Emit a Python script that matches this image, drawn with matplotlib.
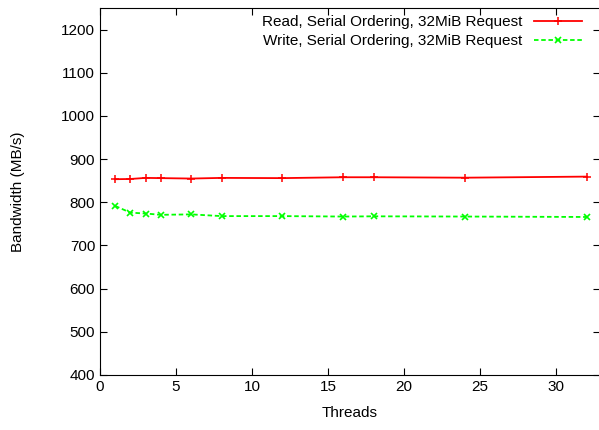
import matplotlib
matplotlib.use("Agg")
import matplotlib.pyplot as plt

threads = [1, 2, 3, 4, 6, 8, 12, 16, 18, 24, 32]
read_bw = [853.5, 854, 856.5, 856, 855, 856.5, 856, 858, 858, 857, 859.5]
write_bw = [791.5, 776, 774, 771, 772, 768, 768, 767, 767.5, 767, 766]

plt.rcParams['font.family'] = ['Liberation Sans', 'DejaVu Sans']
plt.rcParams['font.size'] = 11

fig = plt.figure(figsize=(5.99, 4.30), dpi=100)
# right frame edge sits just past the image border, as in the original
ax = fig.add_axes([100/599, 55/430, 500/599, 367/430])

ax.plot(threads, read_bw, color='#ff0000', lw=1.3, marker='+', ms=5.5, mew=1.1,
        label='Read, Serial Ordering, 32MiB Request')
ax.plot(threads, write_bw, color='#00ff00', lw=1.3, ls=(0, (2.5, 1.5)), marker='x',
        ms=4.5, mew=1.2, label='Write, Serial Ordering, 32MiB Request')

ax.set_xlim(0, 32.88)
ax.set_ylim(400, 1250)
ax.set_xticks([0, 5, 10, 15, 20, 25, 30])
ax.set_yticks(range(400, 1201, 100))
ax.spines['right'].set_visible(False)
ax.tick_params(direction='in', length=5, top=True, right=True, labelsize=11)
ax.set_xlabel('Threads', fontsize=11, labelpad=9)
ax.set_ylabel('Bandwidth (MB/s)', fontsize=11, labelpad=26)

ax.legend(loc='upper right', frameon=False, markerfirst=False, handlelength=3.1,
          borderaxespad=0.2, labelspacing=0.3, handletextpad=0.8,
          bbox_to_anchor=(0.982, 1.005))

fig.savefig('out.png', dpi=100)
